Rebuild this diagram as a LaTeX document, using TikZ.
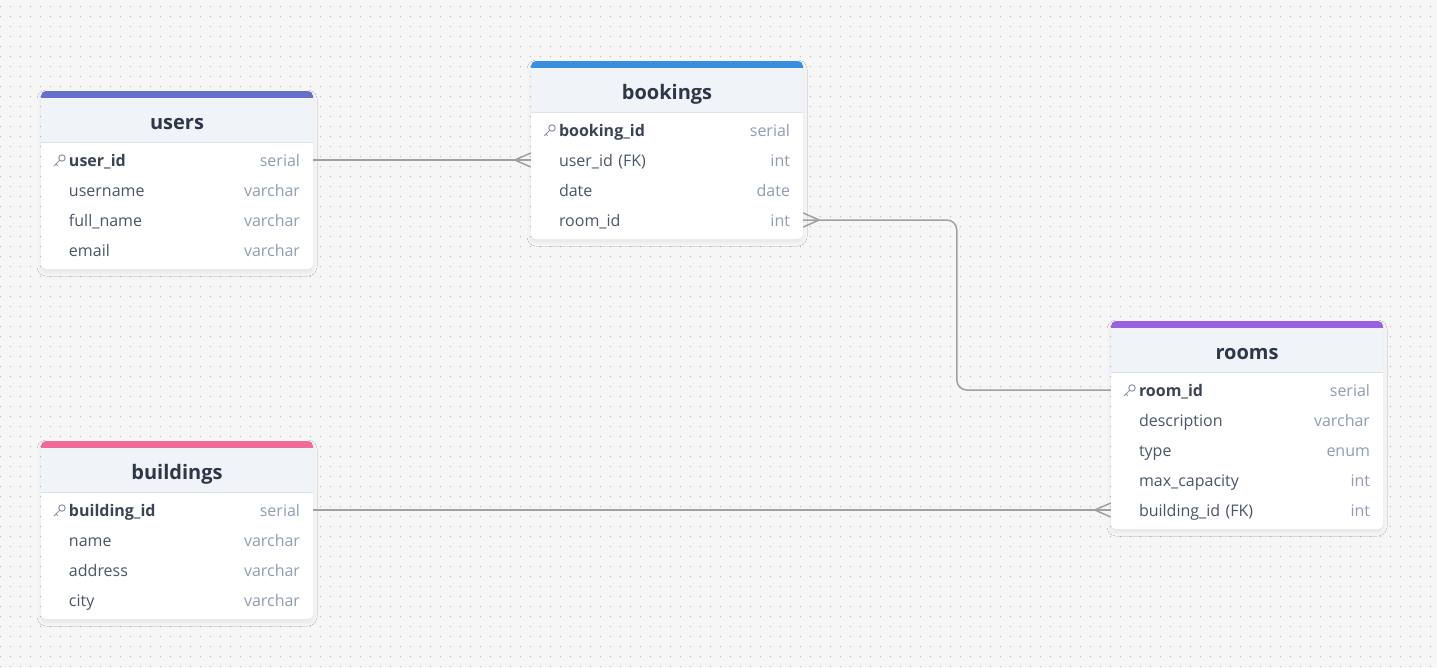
\documentclass[tikz,border=0pt]{standalone}
\usepackage{fontspec}
\setmainfont{Open Sans}
\usepackage{tikz}
\usetikzlibrary{positioning, patterns, shadows.blur}
\definecolor{canvas}{HTML}{F6F6F6}
\definecolor{dotgrey}{HTML}{B8B8B8}
\definecolor{headbg}{HTML}{F0F4F9}
\definecolor{sepline}{HTML}{DCE3EC}
\definecolor{titletext}{HTML}{2D3748}
\definecolor{fieldtext}{HTML}{4A5568}
\definecolor{keytext}{HTML}{3A4454}
\definecolor{typetext}{HTML}{909DB3}
\definecolor{keygrey}{HTML}{8A94A6}
\definecolor{linkgrey}{HTML}{A0A0A0}
\definecolor{usersbar}{HTML}{6670CC}
\definecolor{bookingsbar}{HTML}{3A8EE0}
\definecolor{roomsbar}{HTML}{9A60E2}
\definecolor{buildingsbar}{HTML}{EF6A95}
\pgfdeclarepatternformonly{dotgrid}{\pgfpointorigin}{\pgfpoint{10pt}{10pt}}{\pgfpoint{10pt}{10pt}}{%
  \pgfpathrectangle{\pgfpoint{1pt}{1pt}}{\pgfpoint{1.1pt}{1.1pt}}\pgfusepath{fill}}

\begin{document}
\begin{tikzpicture}[x=1pt, y=-1pt,
  link/.style={draw=linkgrey, line width=1.5pt},
  row/.style={inner xsep=0pt, inner ysep=0pt, text width=272pt, text height=12pt, text depth=0pt, minimum height=30pt, font=\fontsize{16}{18}\selectfont, text=fieldtext},
  title/.style={anchor=base, font=\fontsize{20}{22}\selectfont\bfseries, text=titletext},
  crow/.pic={\draw[link] (#1,0) -- (0,-7) (#1,0) -- (0,7);},
  keyicon/.pic={\draw[keygrey, line width=1pt] (3,-2) circle (3.2) (0.8,0.2) -- (-5,6) (-3,4) -- (-1.3,5.7);}]
  % Canvas with dot grid
  \useasboundingbox (0,0) rectangle (1437,667);
  \fill[canvas] (0,0) rectangle (1437,667);
  \fill[pattern=dotgrid, pattern color=dotgrey] (0,0) rectangle (1437,667);

  % Tables
  \foreach \tab/\x/\y/\h/\col/\rows in {
    users/41/91/178/usersbar/{user\_id/serial,username/varchar,full\_name/varchar,email/varchar},
    bookings/531/61/178/bookingsbar/{booking\_id/serial,user\_id (FK)/int,date/date,room\_id/int},
    rooms/1111/321/208/roomsbar/{room\_id/serial,description/varchar,type/enum,max\_capacity/int,building\_id (FK)/int},
    buildings/41/441/178/buildingsbar/{building\_id/serial,name/varchar,address/varchar,city/varchar}} {
    \path[fill=white, rounded corners=5pt, blur shadow={shadow xshift=0pt, shadow yshift=-3pt, shadow blur radius=4pt, shadow opacity=7}] (\x,\y) rectangle ++(272,\h);
    \fill[\col, rounded corners=5pt] (\x,\y+7) -- (\x,\y) -- (\x+272,\y) -- (\x+272,\y+7);
    \fill[headbg] (\x,\y+7) rectangle (\x+272,\y+51);
    \draw[sepline, line width=1pt] (\x,\y+51) -- (\x+272,\y+51);
    \node[title] (\tab) at (\x+136,\y+38) {\tab};
    \foreach \n/\t [count=\i] in \rows {
      \node[row] (\tab-\i) at (\x+136,\y+39+30*\i) {\noindent\hspace*{28pt}{\ifnum\i=1 \color{keytext}\bfseries\fi\n}\hfill{\color{typetext}\t}\hspace*{13pt}};
    }
    \pic at (\x+18,\y+69) {keyicon};
  }

  % Relations
  \draw[link] (users-1.east) -- (bookings-2.west);
  \pic at (bookings-2.west) {crow=-16};
  \draw[link, rounded corners=10pt] (bookings-4.east) -| ([xshift=-154pt]rooms-1.west) -- (rooms-1.west);
  \pic at (bookings-4.east) {crow=16};
  \draw[link] (buildings-1.east) -- (rooms-5.west);
  \pic at (rooms-5.west) {crow=-16};
\end{tikzpicture}
\end{document}
